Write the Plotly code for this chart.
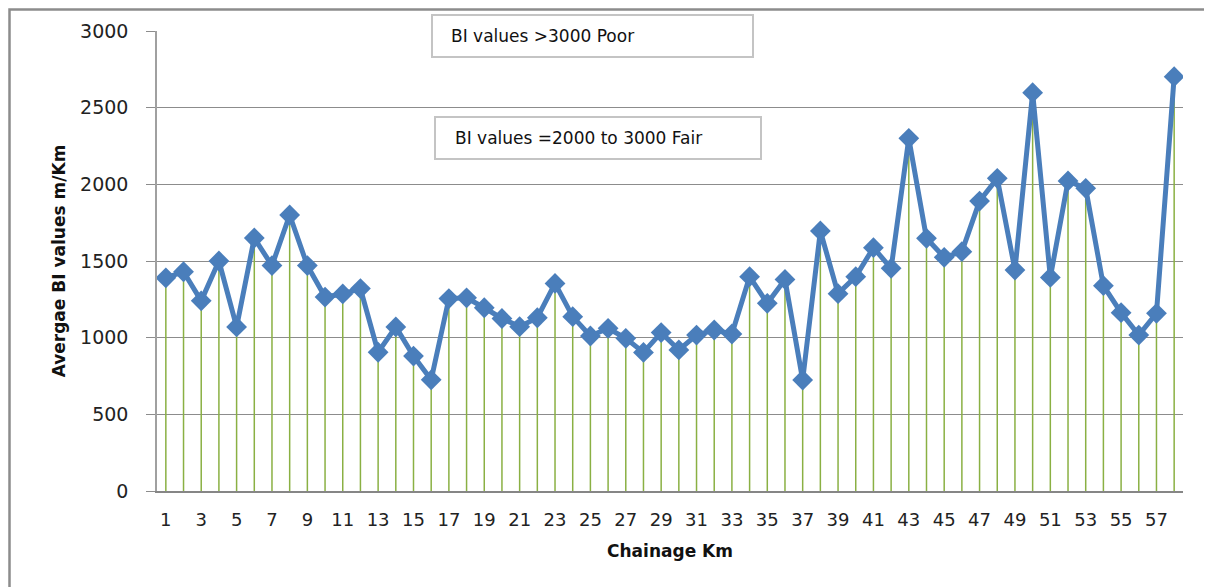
import plotly.graph_objects as go

chainage_km = list(range(1, 59))
bi_values = [1390, 1430, 1240, 1500, 1070, 1650, 1470, 1800, 1470, 1265,
             1285, 1320, 905, 1070, 880, 725, 1255, 1260, 1195, 1125,
             1072, 1130, 1354, 1137, 1011, 1061, 996, 904, 1033, 920,
             1017, 1050, 1024, 1398, 1224, 1380, 724, 1696, 1287, 1398,
             1587, 1452, 2300, 1648, 1524, 1561, 1891, 2039, 1441, 2598,
             1393, 2022, 1974, 1339, 1163, 1017, 1159, 2702]
tick_values = list(range(1, 58, 2))
y_ticks = [0, 500, 1000, 1500, 2000, 2500, 3000]
note_poor = "BI values >3000 Poor"
note_fair = "BI values =2000 to 3000 Fair"
x_title = "Chainage Km"
y_title = "Avergae BI values m/Km"

# page body margin offset (plotly div sits 8px in from the window edge)
OFF = 8
W, H = 1212, 587
L, R, T, B = 157, 1183, 31, 491  # plot area in window pixels


def px(x):
    return (x - L) / (R - L)


def py(y):
    return (B - y) / (B - T)


# drop lines from axis to each point
drop_x, drop_y = [], []
for xv, yv in zip(chainage_km, bi_values):
    drop_x += [xv, xv, None]
    drop_y += [0, yv, None]

fig = go.Figure()
fig.add_trace(go.Scatter(x=drop_x, y=drop_y, mode="lines",
                         line=dict(color="#8AB043", width=1.5),
                         hoverinfo="skip", showlegend=False))
fig.add_trace(go.Scatter(x=chainage_km, y=bi_values, mode="lines+markers",
                         line=dict(color="#4A7EBB", width=5),
                         marker=dict(symbol="diamond", size=16, color="#4A7EBB"),
                         showlegend=False))

font_main = "DejaVu Sans, sans-serif"

shapes = [
    dict(type="rect", xref="paper", yref="paper",
         x0=px(9.5), x1=px(1240), y0=py(620), y1=py(9.5),
         line=dict(color="#8C8C8C", width=2.5), fillcolor="rgba(0,0,0,0)",
         layer="below"),
    dict(type="rect", xref="paper", yref="paper",
         x0=px(432), x1=px(753), y0=py(57), y1=py(15),
         line=dict(color="#C4C4C4", width=2), fillcolor="white", layer="above"),
    dict(type="rect", xref="paper", yref="paper",
         x0=px(435), x1=px(761), y0=py(159), y1=py(117),
         line=dict(color="#C4C4C4", width=2), fillcolor="white", layer="above"),
]

annotations = [
    dict(text=note_poor, xref="paper", yref="paper", x=px(449), y=py(36),
         xanchor="left", yanchor="middle", showarrow=False,
         font=dict(family=font_main, size=17, color="#111111")),
    dict(text=note_fair, xref="paper", yref="paper", x=px(453), y=py(138),
         xanchor="left", yanchor="middle", showarrow=False,
         font=dict(family=font_main, size=17, color="#111111")),
]

fig.update_layout(
    width=W, height=H,
    margin=dict(l=L - OFF, r=W - R + OFF, t=T - OFF, b=H - B + OFF, pad=0),
    paper_bgcolor="white", plot_bgcolor="white",
    shapes=shapes, annotations=annotations,
    font=dict(family=font_main, color="#222222"),
    xaxis=dict(range=[0.5, 58.5], tickmode="array", tickvals=tick_values,
               ticktext=[str(v) for v in tick_values],
               showgrid=False, zeroline=False, showline=True,
               linecolor="#868686", linewidth=1.5, ticks="",
               ticklabelstandoff=12,
               tickfont=dict(size=18, family=font_main, color="#222222"),
               title=dict(text="<b>" + x_title + "</b>", standoff=16,
                          font=dict(size=17, family=font_main, color="#111111"))),
    yaxis=dict(range=[0, 3000], tickmode="array", tickvals=y_ticks,
               showgrid=True, gridcolor="#8C8C8C", gridwidth=1.2,
               zeroline=False, showline=True, linecolor="#A0A0A0", linewidth=1.5,
               ticks="outside", ticklen=9, tickcolor="#8C8C8C",
               ticklabelstandoff=14,
               tickfont=dict(size=19, family=font_main, color="#222222"),
               title=dict(text="<b>" + y_title + "</b>", standoff=10,
                          font=dict(size=17, family=font_main, color="#111111"))),
)

fig.write_html("out.html")
